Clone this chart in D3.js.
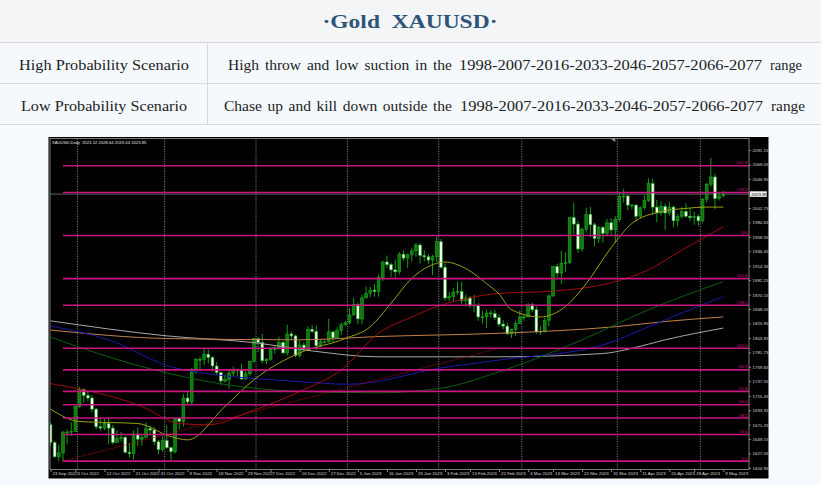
<!DOCTYPE html>
<html><head><meta charset="utf-8">
<script src="https://cdn.jsdelivr.net/npm/d3@7"></script>
<style>
html,body{margin:0;padding:0;background:#f6f9fd;}
svg{display:block;}
</style></head><body>
<svg id="c" width="821" height="485"></svg>
<script>
// ---------------- DATA ----------------
const titleText = "·Gold  XAUUSD·";
const rowLabels = ["High Probability Scenario", "Low Probability Scenario"];
const rowWords = ["High throw and low suction in the", "Chase up and kill down outside the"];
const rowNumbers = ["1998-2007-2016-2033-2046-2057-2066-2077", "1998-2007-2016-2033-2046-2057-2066-2077"];
const rowTail = ["range", "range"];
const chartHeader = "XAUUSD,Daily  2021.12 2028.64 2019.44 2023.85";
const bidPrice = 2023.85;

const dates = [
 "2022-09-23","2022-09-26","2022-09-27","2022-09-28","2022-09-29","2022-09-30",
 "2022-10-03","2022-10-04","2022-10-05","2022-10-06","2022-10-07",
 "2022-10-10","2022-10-11","2022-10-12","2022-10-13","2022-10-14",
 "2022-10-17","2022-10-18","2022-10-19","2022-10-20","2022-10-21",
 "2022-10-24","2022-10-25","2022-10-26","2022-10-27","2022-10-28",
 "2022-10-31","2022-11-01","2022-11-02","2022-11-03","2022-11-04",
 "2022-11-07","2022-11-08","2022-11-09","2022-11-10","2022-11-11",
 "2022-11-14","2022-11-15","2022-11-16","2022-11-17","2022-11-18",
 "2022-11-21","2022-11-22","2022-11-23","2022-11-24","2022-11-25",
 "2022-11-28","2022-11-29","2022-11-30","2022-12-01","2022-12-02",
 "2022-12-05","2022-12-06","2022-12-07","2022-12-08","2022-12-09",
 "2022-12-12","2022-12-13","2022-12-14","2022-12-15","2022-12-16",
 "2022-12-19","2022-12-20","2022-12-21","2022-12-22","2022-12-23",
 "2022-12-26","2022-12-27","2022-12-28","2022-12-29","2022-12-30",
 "2023-01-02","2023-01-03","2023-01-04","2023-01-05","2023-01-06",
 "2023-01-09","2023-01-10","2023-01-11","2023-01-12","2023-01-13",
 "2023-01-16","2023-01-17","2023-01-18","2023-01-19","2023-01-20",
 "2023-01-23","2023-01-24","2023-01-25","2023-01-26","2023-01-27",
 "2023-01-30","2023-01-31","2023-02-01","2023-02-02","2023-02-03",
 "2023-02-06","2023-02-07","2023-02-08","2023-02-09","2023-02-10",
 "2023-02-13","2023-02-14","2023-02-15","2023-02-16","2023-02-17",
 "2023-02-20","2023-02-21","2023-02-22","2023-02-23","2023-02-24",
 "2023-02-27","2023-02-28","2023-03-01","2023-03-02","2023-03-03",
 "2023-03-06","2023-03-07","2023-03-08","2023-03-09","2023-03-10",
 "2023-03-13","2023-03-14","2023-03-15","2023-03-16","2023-03-17",
 "2023-03-20","2023-03-21","2023-03-22","2023-03-23","2023-03-24",
 "2023-03-27","2023-03-28","2023-03-29","2023-03-30","2023-03-31",
 "2023-04-03","2023-04-04","2023-04-05","2023-04-06","2023-04-07",
 "2023-04-10","2023-04-11","2023-04-12","2023-04-13","2023-04-14",
 "2023-04-17","2023-04-18","2023-04-19","2023-04-20","2023-04-21",
 "2023-04-24","2023-04-25","2023-04-26","2023-04-27","2023-04-28",
 "2023-05-01","2023-05-02","2023-05-03","2023-05-04","2023-05-05",
 "2023-05-08","2023-05-09"
];
const openP = [
 1671,1644,1622,1628,1660,1660, 1661,1699,1725,1716,1712, 1695,1668,1666,1673,1666,
 1644,1650,1652,1629,1627, 1657,1649,1652,1665,1663, 1645,1633,1647,1636,1630,
 1681,1676,1712,1706,1755, 1771,1771,1779,1774,1761, 1751,1738,1740,1750,1755,
 1755,1741,1749,1768,1803, 1797,1769,1771,1786,1789, 1797,1781,1810,1807,1777,
 1793,1788,1817,1814,1792, 1798,1798,1813,1804,1815, 1824,1827,1839,1855,1833,
 1865,1872,1877,1875,1896, 1920,1916,1908,1905,1932, 1926,1931,1937,1946,1930,
 1928,1923,1928,1951,1912, 1865,1867,1874,1875,1861, 1865,1853,1854,1836,1836,
 1842,1841,1835,1825,1822, 1810,1817,1826,1836,1836, 1855,1847,1813,1814,1831,
 1868,1913,1903,1918,1919, 1988,1978,1940,1970,1993, 1977,1956,1973,1964,1980,
 1969,1985,2020,2021,2007, 2007,1990,2003,2014,2040, 2004,1995,2005,1995,2004,
 1983,1990,1997,1990,1988, 1990,1983,2016,2039,2050, 2017,2021.12
];
const highP = [
 1674,1646,1641,1661,1664,1675, 1700,1729,1727,1722,1716, 1697,1680,1680,1683,1671,
 1663,1660,1654,1643,1662, 1667,1656,1675,1670,1667, 1648,1654,1670,1637,1682,
 1683,1718,1722,1758,1773, 1775,1787,1786,1776,1767, 1752,1748,1754,1760,1757,
 1764,1754,1769,1804,1804, 1810,1773,1790,1792,1806, 1799,1824,1814,1809,1800,
 1797,1822,1824,1823,1802, 1800,1833,1815,1820,1827, 1830,1850,1865,1858,1870,
 1882,1882,1886,1901,1922, 1930,1919,1924,1935,1938, 1933,1942,1949,1949,1938,
 1932,1931,1959,1955,1918, 1874,1880,1890,1890,1870, 1868,1870,1857,1845,1847,
 1846,1847,1840,1831,1827, 1818,1830,1846,1840,1857, 1858,1852,1822,1835,1871,
 1914,1917,1937,1935,1989, 2010,1983,1973,2003,2004, 1980,1975,1975,1986,1987,
 1990,2026,2032,2023,2009, 2009,2005,2022,2048,2047, 2015,2013,2009,2012,2006,
 1993,2004,2010,2003,1997, 1993,2018,2041,2079,2055, 2026,2028.64
];
const lowP = [
 1639,1622,1615,1615,1641,1654, 1660,1697,1705,1707,1690, 1664,1662,1663,1642,1641,
 1643,1645,1627,1621,1618, 1639,1639,1650,1656,1640, 1626,1630,1634,1617,1627,
 1664,1668,1702,1701,1749, 1755,1763,1765,1753,1747, 1732,1736,1726,1746,1745,
 1740,1740,1746,1766,1782, 1765,1764,1769,1780,1786, 1779,1777,1801,1774,1774,
 1784,1784,1811,1785,1790, 1796,1797,1796,1803,1808, 1823,1825,1838,1825,1825,
 1865,1866,1867,1867,1891, 1911,1897,1896,1901,1922, 1911,1921,1928,1918,1921,
 1917,1900,1920,1910,1861, 1860,1859,1870,1856,1852, 1850,1843,1830,1826,1819,
 1835,1831,1821,1817,1809, 1804,1807,1826,1830,1836, 1843,1810,1809,1812,1822,
 1867,1896,1886,1905,1917, 1962,1934,1936,1965,1958, 1944,1949,1950,1959,1961,
 1950,1982,2011,1999,2001, 1981,1987,2000,2012,1992, 1981,1991,1969,1991,1973,
 1975,1987,1988,1983,1977, 1975,1980,2011,2035,2001, 2014,2019.44
];
const closeP = [
 1644,1622,1628,1660,1660,1661, 1699,1725,1716,1712,1695, 1668,1666,1673,1666,1644,
 1650,1652,1629,1627,1657, 1649,1652,1665,1663,1645, 1633,1647,1636,1630,1681,
 1676,1712,1706,1755,1771, 1771,1779,1774,1761,1751, 1738,1740,1750,1755,1755,
 1741,1749,1768,1803,1797, 1769,1771,1786,1789,1797, 1781,1810,1807,1777,1793,
 1788,1817,1814,1792,1798, 1798,1813,1804,1815,1824, 1827,1839,1855,1833,1865,
 1872,1877,1875,1896,1920, 1916,1908,1905,1932,1926, 1931,1937,1946,1930,1928,
 1923,1928,1951,1912,1865, 1867,1874,1875,1861,1865, 1853,1854,1836,1836,1842,
 1841,1835,1825,1822,1810, 1817,1826,1836,1836,1855, 1847,1813,1814,1831,1868,
 1913,1903,1918,1919,1988, 1978,1940,1970,1993,1977, 1956,1973,1964,1980,1969,
 1985,2020,2021,2007,2007, 1990,2003,2014,2040,2004, 1995,2005,1995,2004,1983,
 1990,1997,1990,1988,1990, 1983,2016,2039,2050,2017, 2021,2023.85
];

// moving averages (date, value)
const maYellowDates = ["2022-09-23","2022-10-04","2022-10-24","2022-11-03","2022-11-09","2022-11-22","2022-12-01","2022-12-16","2023-01-02","2023-01-10","2023-01-17","2023-01-24","2023-02-01","2023-02-03","2023-02-10","2023-02-17","2023-02-22","2023-02-27","2023-03-08","2023-03-16","2023-03-23","2023-03-31","2023-04-07","2023-04-18","2023-04-26","2023-05-03","2023-05-09"];
const maYellow = [1695,1676,1673,1653,1648,1699,1740,1781,1803,1821,1857,1895,1918,1920,1910,1887,1871,1847,1836,1852,1887,1942,1979,1997,2002,2004,2004];
const maRedDates = ["2022-09-23","2022-10-25","2022-11-07","2022-11-16","2022-11-30","2022-12-16","2022-12-30","2023-01-12","2023-01-24","2023-02-02","2023-02-10","2023-02-22","2023-03-10","2023-04-03","2023-04-13","2023-04-25","2023-05-09"];
const maRed = [1734,1699,1673,1671,1691,1722,1755,1811,1836,1854,1864,1872,1875,1890,1908,1938,1974];
const maGreenDates = ["2022-09-23","2022-10-25","2022-11-16","2022-12-16","2023-01-12","2023-02-02","2023-02-22","2023-03-22","2023-04-13","2023-05-09"];
const maGreen = [1805,1760,1737,1722,1720,1727,1752,1801,1847,1890];
const maBlueDates = ["2022-09-23","2022-10-13","2022-11-04","2022-12-16","2023-01-03","2023-02-02","2023-02-22","2023-03-29","2023-04-13","2023-04-25","2023-05-09"];
const maBlue = [1822,1801,1758,1737,1733,1758,1770,1793,1821,1842,1867];
const maOrangeDates = ["2022-09-23","2022-11-02","2022-12-16","2023-01-12","2023-02-22","2023-04-03","2023-04-19","2023-05-09"];
const maOrange = [1816,1803,1801,1806,1811,1821,1829,1836];
const maGrayDates = ["2022-09-23","2022-11-02","2022-12-02","2022-12-21","2023-01-12","2023-02-22","2023-03-29","2023-04-07","2023-04-19","2023-05-09"];
const maGray = [1830,1807,1796,1784,1775,1775,1780,1788,1801,1819];

// fibonacci
const fibLevels = [0, 23.6, 38.2, 50, 61.8, 80.9, 100, 138.2, 161.8, 200, 238.2, 261.8];
const fibLabels = ["0.0","23.6","38.2","50.0","61.8","80.9","100.0","138.2","161.8","200","238.2","261.8"];
const fibStart = {date:"2022-09-28", price:1615.5};
const fibEnd = {date:"2023-02-22", price:1788};

const yTicks = [1604.95,1627.05,1649.15,1671.25,1693.35,1715.45,1737.55,1759.65,1781.75,1803.85,1825.95,1848.05,1870.15,1892.25,1914.35,1936.45,1958.55,1980.65,2002.75,2046.95,2069.05,2091.15];
const xLabelDates = ["2022-09-23","2022-10-03","2022-10-12","2022-10-21","2022-10-31","2022-11-09","2022-11-18","2022-11-29","2022-12-07","2022-12-16","2022-12-27","2023-01-05","2023-01-16","2023-01-25","2023-02-03","2023-02-13","2023-02-22","2023-03-03","2023-03-13","2023-03-22","2023-03-31","2023-04-11","2023-04-20","2023-04-28","2023-05-09"];
const separatorDates = ["2022-10-03","2022-11-01","2022-12-01","2023-01-02","2023-02-01","2023-03-01","2023-04-03","2023-05-01"];

// ---------------- DRAW ----------------
const W = 821, H = 485;
const svg = d3.select("#c");

svg.append("rect").attr("width", W).attr("height", H).attr("fill", "#f6f9fd");
svg.append("rect").attr("width", W).attr("height", 42).attr("fill", "#f4f5f6");
svg.append("rect").attr("y", 42).attr("width", W).attr("height", 82).attr("fill", "#f5f9fe");
[42.5, 83.5, 124.5].forEach(yy => svg.append("line").attr("x1", 0).attr("x2", W).attr("y1", yy).attr("y2", yy).attr("stroke", "#d6dae0").attr("stroke-width", 1));
svg.append("line").attr("x1", 207.5).attr("x2", 207.5).attr("y1", 42).attr("y2", 124).attr("stroke", "#d6dae0");

svg.append("text").attr("x", 410).attr("y", 27.5).attr("text-anchor", "middle")
  .attr("font-family", "Liberation Serif, serif").attr("font-weight", "bold").attr("font-size", 19.5)
  .attr("fill", "#2c5578").attr("textLength", 175).attr("lengthAdjust", "spacingAndGlyphs")
  .style("white-space", "pre").text(titleText);

const rowY = [69.5, 110.5];
const col1W = [170, 166];
// text segment extents [words start, words end, numbers start, numbers end, tail start, tail end]
const seg = [[228, 452, 459, 762, 770, 802], [224, 452, 460, 763, 771, 805]];
const serif = "Liberation Serif, serif";
rowLabels.forEach((t, i) => {
  svg.append("text").attr("x", 104).attr("y", rowY[i]).attr("text-anchor", "middle")
    .attr("font-family", serif).attr("font-size", 15.5).attr("fill", "#222")
    .attr("textLength", col1W[i]).attr("lengthAdjust", "spacingAndGlyphs").text(t);
});
rowWords.forEach((t, i) => {
  const s = seg[i];
  const tx = svg.append("text").attr("x", s[0]).attr("y", rowY[i])
    .attr("font-family", serif).attr("font-size", 15.5).attr("fill", "#222").text(t);
  const w = tx.node().getComputedTextLength();
  const n = t.split(" ").length - 1;
  const ws = ((s[1] - s[0]) - w) / n;
  if (ws >= 0) tx.attr("word-spacing", ws);
  else tx.attr("textLength", s[1] - s[0]).attr("lengthAdjust", "spacingAndGlyphs");
  svg.append("text").attr("x", s[2]).attr("y", rowY[i])
    .attr("font-family", serif).attr("font-size", 15.5).attr("fill", "#222")
    .attr("textLength", s[3] - s[2]).attr("lengthAdjust", "spacingAndGlyphs").text(rowNumbers[i]);
  svg.append("text").attr("x", s[4]).attr("y", rowY[i])
    .attr("font-family", serif).attr("font-size", 15.5).attr("fill", "#222")
    .attr("textLength", s[5] - s[4]).attr("lengthAdjust", "spacingAndGlyphs").text(rowTail[i]);
});

// chart panel
const plotL = 50, plotR = 749, plotT = 138.5, plotB = 469.5;
svg.append("rect").attr("x", 48.5).attr("y", 137).attr("width", 720).attr("height", 341.5).attr("fill", "#000");

const x = d3.scalePoint().domain(dates).range([50.5, 723.3]);
const y = d3.scaleLinear().domain([1604.95, 2091.15]).range([468, 150.1]);
const pdate = d3.timeParse("%Y-%m-%d");
const fmt = d3.timeFormat("%-d %b %Y");

const g = svg.append("g");
const clip = svg.append("clipPath").attr("id", "pc");
clip.append("rect").attr("x", plotL).attr("y", plotT).attr("width", plotR - plotL).attr("height", plotB - plotT);
const pg = g.append("g").attr("clip-path", "url(#pc)");

// month separators
pg.selectAll("line.sep").data(separatorDates).join("line").attr("class", "sep")
  .attr("x1", d => x(d) + 2).attr("x2", d => x(d) + 2).attr("y1", plotT).attr("y2", plotB)
  .attr("stroke", "#8c8c8c").attr("stroke-width", 0.9).attr("stroke-dasharray", "1.2,1.3");

// bid line
pg.append("line").attr("x1", plotL).attr("x2", plotR).attr("y1", y(bidPrice)).attr("y2", y(bidPrice))
  .attr("stroke", "#7a7a7a").attr("stroke-width", 0.8);

// candles
const bars = dates.map((d, i) => ({d, o: openP[i], h: highP[i], l: lowP[i], c: closeP[i]}));
pg.selectAll("line.wick").data(bars).join("line").attr("class", "wick")
  .attr("x1", b => x(b.d)).attr("x2", b => x(b.d)).attr("y1", b => y(b.h)).attr("y2", b => y(b.l))
  .attr("stroke", "#169c16").attr("stroke-width", 1);
pg.selectAll("rect.body").data(bars).join("rect").attr("class", "body")
  .attr("x", b => x(b.d) - 1.4).attr("width", 2.8)
  .attr("y", b => y(Math.max(b.o, b.c)))
  .attr("height", b => Math.max(0.8, Math.abs(y(b.o) - y(b.c))))
  .attr("fill", b => b.c >= b.o ? "#0d7a0d" : "#f4fff2")
  .attr("stroke", "#1aa81a").attr("stroke-width", 0.6);

// moving averages
const maLine = d3.line().x(p => x(p[0])).y(p => y(p[1])).curve(d3.curveMonotoneX);
const mas = [
  [maGrayDates, maGray, "#a8a8a8"],
  [maOrangeDates, maOrange, "#c0824a"],
  [maBlueDates, maBlue, "#1a1aa8"],
  [maGreenDates, maGreen, "#0a600a"],
  [maRedDates, maRed, "#a00c0c"],
  [maYellowDates, maYellow, "#9e9e12"]
];
mas.forEach(([ds, vs, col]) => {
  pg.append("path").datum(ds.map((d, i) => [d, vs[i]])).attr("d", maLine)
    .attr("fill", "none").attr("stroke", col).attr("stroke-width", 1);
});

// fib trend line
pg.append("line").attr("x1", x(fibStart.date)).attr("y1", y(fibStart.price))
  .attr("x2", x(fibEnd.date)).attr("y2", y(fibEnd.price))
  .attr("stroke", "#a00c0c").attr("stroke-width", 1).attr("stroke-dasharray", "1.2,1.2");
const fibPrice = lv => fibStart.price + (fibEnd.price - fibStart.price) * lv / 100;
pg.selectAll("line.fib").data(fibLevels).join("line").attr("class", "fib")
  .attr("x1", x(fibStart.date)).attr("x2", plotR).attr("y1", d => y(fibPrice(d))).attr("y2", d => y(fibPrice(d)))
  .attr("stroke", "#c8157f").attr("stroke-width", 1.6);
pg.selectAll("text.fibl").data(fibLevels).join("text").attr("class", "fibl")
  .attr("x", plotR - 1.5).attr("y", d => y(fibPrice(d)) - 1.4).attr("text-anchor", "end")
  .attr("font-family", "Liberation Sans, Arial, sans-serif").attr("font-size", 4.4).attr("fill", "#c8157f")
  .text((d, i) => fibLabels[i]);

// frame
g.append("rect").attr("x", plotL).attr("y", plotT).attr("width", plotR - plotL).attr("height", plotB - plotT)
  .attr("fill", "none").attr("stroke", "#9a9a9a").attr("stroke-width", 0.8);

// y axis
const ya = g.append("g").attr("transform", `translate(${plotR},0)`)
  .call(d3.axisRight(y).tickValues(yTicks).tickFormat(d3.format(".2f")).tickSize(2).tickPadding(1.5));
ya.select(".domain").remove();
ya.selectAll("line").attr("stroke", "#bbbbbb").attr("stroke-width", 0.7);
ya.selectAll("text").attr("fill", "#d8d8d8").attr("font-size", 4.4).attr("font-family", "Liberation Sans, Arial, sans-serif");

// price box
g.append("rect").attr("x", plotR + 0.8).attr("y", y(bidPrice) - 2.8).attr("width", 17).attr("height", 5.6).attr("fill", "#f2f2f2");
g.append("text").attr("x", plotR + 2.2).attr("y", y(bidPrice) + 1.6).attr("font-size", 4.4)
  .attr("font-family", "Liberation Sans, Arial, sans-serif").attr("fill", "#000").text(bidPrice.toFixed(2));

// x axis
const xa = g.append("g").attr("transform", `translate(0,${plotB})`)
  .call(d3.axisBottom(x).tickValues(xLabelDates).tickFormat(d => fmt(pdate(d))).tickSize(2.5).tickPadding(1));
xa.select(".domain").remove();
xa.selectAll("line").attr("stroke", "#bbbbbb").attr("stroke-width", 0.7);
xa.selectAll("text").attr("fill", "#d8d8d8").attr("font-size", 4.4).attr("text-anchor", "start")
  .attr("dx", 1.5).attr("dy", "0.3em").attr("y", 4.5)
  .attr("font-family", "Liberation Sans, Arial, sans-serif");

// header text
g.append("text").attr("x", 52).attr("y", 143.5).attr("font-size", 4.2).attr("fill", "#e6e6e6")
  .attr("font-family", "Liberation Sans, Arial, sans-serif").style("white-space", "pre").text(chartHeader);

// chart shift marker
g.append("path").attr("d", `M${x("2023-04-03")-5},${plotT} l5,3.5 l-0,-3.5 Z`).attr("fill", "#9a9a9a");
</script>
</body></html>
